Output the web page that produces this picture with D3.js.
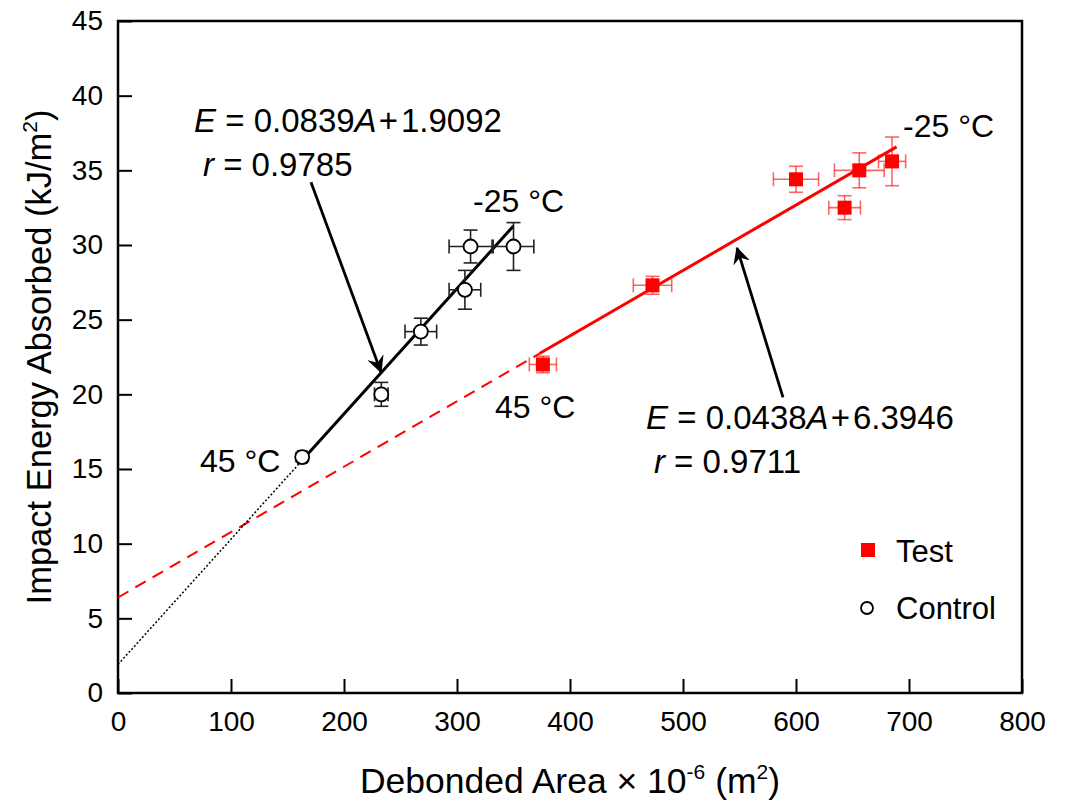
<!DOCTYPE html>
<html>
<head>
<meta charset="utf-8">
<script src="https://d3js.org/d3.v7.min.js"></script>
<style>
    body { margin: 0; background: #fff; }
    text { font-family: "Liberation Sans", Arial, sans-serif; fill: #000; }
</style>
</head>
<body>
<div id="chart"></div>
<script>
// control specimens (open circles)
var controlArea      = [163, 233, 268, 307, 312, 350];
var controlEnergy    = [15.8, 20.0, 24.2, 27.0, 29.9, 29.9];
var controlAreaErr   = [4, 6, 14, 14, 19, 18];
var controlEnergyErr = [0.3, 0.8, 0.9, 1.3, 1.1, 1.6];

// test specimens (red squares)
var testArea      = [376, 473, 600, 643, 656, 685];
var testEnergy    = [22.0, 27.3, 34.4, 32.5, 35.0, 35.6];
var testAreaErr   = [12, 17, 20, 14, 22, 12];
var testEnergyErr = [0.55, 0.6, 0.87, 0.8, 1.17, 1.63];

// regression lines: slope, intercept, range of measured data
var controlFit = [0.0839, 1.9092, 162, 350];
var testFit    = [0.0438, 6.3946, 373, 689];

var xTicks = [0, 100, 200, 300, 400, 500, 600, 700, 800];
var yTicks = [0, 5, 10, 15, 20, 25, 30, 35, 40, 45];

var width = 1065, height = 805;
var margin = {left: 118, right: 43, top: 21, bottom: 112};

var svg = d3.select('#chart')
    .append('svg')
    .attr('width', width)
    .attr('height', height);

var x = d3.scaleLinear().domain([0, 800]).range([margin.left, width - margin.right]);
var y = d3.scaleLinear().domain([0, 45]).range([height - margin.bottom, margin.top]);

// axes (ticks point inward)
var xAxis = svg.append('g')
    .attr('transform', 'translate(0,' + y(0) + ')')
    .call(d3.axisBottom(x).tickValues(xTicks).tickSize(-14).tickPadding(18).tickFormat(d3.format('d')));
var yAxis = svg.append('g')
    .attr('transform', 'translate(' + x(0) + ',0)')
    .call(d3.axisLeft(y).tickValues(yTicks).tickSize(-14).tickPadding(15).tickFormat(d3.format('d')));
[xAxis, yAxis].forEach(function(a) {
    a.attr('font-size', 28).attr('font-family', '"Liberation Sans", Arial, sans-serif');
    a.select('.domain').remove();
    a.selectAll('line').attr('stroke', '#000').attr('stroke-width', 2);
    a.selectAll('text').attr('fill', '#000');
});

svg.append('rect')
    .attr('x', x(0)).attr('y', y(45))
    .attr('width', x(800) - x(0)).attr('height', y(0) - y(45))
    .attr('fill', 'none').attr('stroke', '#000').attr('stroke-width', 2.5);

// axis titles
var xt = svg.append('text')
    .attr('x', (x(0) + x(800)) / 2).attr('y', 793)
    .attr('text-anchor', 'middle').attr('font-size', 35.5);
xt.append('tspan').text('Debonded Area \u00d7 10');
xt.append('tspan').attr('dy', -14).attr('font-size', 21).text('-6');
xt.append('tspan').attr('dy', 14).text(' (m');
xt.append('tspan').attr('dy', -14).attr('font-size', 21).text('2');
xt.append('tspan').attr('dy', 14).text(')');

var yt = svg.append('text')
    .attr('transform', 'translate(51,' + (y(0) + y(45)) / 2 + ') rotate(-90)')
    .attr('text-anchor', 'middle').attr('font-size', 34.5);
yt.append('tspan').text('Impact Energy Absorbed (kJ/m');
yt.append('tspan').attr('dy', -14).attr('font-size', 21).text('2');
yt.append('tspan').attr('dy', 14).text(')');

// fit lines: dashed/dotted extrapolation to A = 0, solid over the data
function fitLine(fit, a0, a1) {
    return d3.line()([[x(a0), y(fit[0] * a0 + fit[1])], [x(a1), y(fit[0] * a1 + fit[1])]]);
}
svg.append('path').attr('d', fitLine(testFit, 0, testFit[2]))
    .attr('stroke', '#ff0000').attr('stroke-width', 2).attr('stroke-dasharray', '12,8').attr('fill', 'none');
svg.append('path').attr('d', fitLine(testFit, testFit[2], testFit[3]))
    .attr('stroke', '#ff0000').attr('stroke-width', 3).attr('fill', 'none');
svg.append('path').attr('d', fitLine(controlFit, 0, controlFit[2]))
    .attr('stroke', '#000').attr('stroke-width', 1.5).attr('stroke-dasharray', '2,2').attr('fill', 'none');
svg.append('path').attr('d', fitLine(controlFit, controlFit[2], controlFit[3]))
    .attr('stroke', '#000').attr('stroke-width', 3).attr('fill', 'none');

// error bars
function errorBars(xs, ys, xe, ye, color) {
    var g = svg.append('g').attr('stroke', color).attr('stroke-width', 1.6);
    var cap = 7;
    xs.forEach(function(d, i) {
        var cx = x(d), cy = y(ys[i]);
        var x0 = x(d - xe[i]), x1 = x(d + xe[i]);
        var y0 = y(ys[i] - ye[i]), y1 = y(ys[i] + ye[i]);
        g.append('line').attr('x1', x0).attr('x2', x1).attr('y1', cy).attr('y2', cy);
        g.append('line').attr('x1', x0).attr('x2', x0).attr('y1', cy - cap).attr('y2', cy + cap);
        g.append('line').attr('x1', x1).attr('x2', x1).attr('y1', cy - cap).attr('y2', cy + cap);
        g.append('line').attr('x1', cx).attr('x2', cx).attr('y1', y0).attr('y2', y1);
        g.append('line').attr('x1', cx - cap).attr('x2', cx + cap).attr('y1', y0).attr('y2', y0);
        g.append('line').attr('x1', cx - cap).attr('x2', cx + cap).attr('y1', y1).attr('y2', y1);
    });
}
errorBars(testArea, testEnergy, testAreaErr, testEnergyErr, 'rgba(255,0,0,0.6)');
errorBars(controlArea, controlEnergy, controlAreaErr, controlEnergyErr, '#222');

// markers
svg.selectAll('rect.test')
    .data(testArea)
    .enter()
    .append('rect')
    .attr('class', 'test')
    .attr('x', (d) => x(d) - 7)
    .attr('y', (d, i) => y(testEnergy[i]) - 7)
    .attr('width', 14).attr('height', 14)
    .attr('fill', '#ff0000');

svg.selectAll('circle.control')
    .data(controlArea)
    .enter()
    .append('circle')
    .attr('class', 'control')
    .attr('cx', (d) => x(d))
    .attr('cy', (d, i) => y(controlEnergy[i]))
    .attr('r', 7)
    .attr('fill', '#fff').attr('stroke', '#000').attr('stroke-width', 1.8);

// arrows pointing at the fit lines
svg.append('defs').append('marker')
    .attr('id', 'head')
    .attr('viewBox', '0 0 12 12')
    .attr('refX', 11).attr('refY', 6)
    .attr('markerWidth', 17).attr('markerHeight', 17)
    .attr('markerUnits', 'userSpaceOnUse')
    .attr('orient', 'auto')
    .append('path')
    .attr('d', 'M0,0 L12,6 L0,12 L4,6 Z')
    .attr('fill', '#000');

var arrows = [
    [170.8, 34.2, 232.7, 21.5],
    [588.5, 19.8, 547.8, 29.8]
];
arrows.forEach(function(a) {
    svg.append('line')
        .attr('x1', x(a[0])).attr('y1', y(a[1]))
        .attr('x2', x(a[2])).attr('y2', y(a[3]))
        .attr('stroke', '#000').attr('stroke-width', 2.8)
        .attr('marker-end', 'url(#head)');
});

// labels
function eqLabel(ax, ey, slope, icpt) {
    var t = svg.append('text').attr('x', x(ax)).attr('y', y(ey)).attr('font-size', 33);
    t.append('tspan').attr('font-style', 'italic').text('E');
    t.append('tspan').text(' = ' + slope);
    t.append('tspan').attr('font-style', 'italic').text('A');
    t.append('tspan').attr('dx', 2).text('+');
    t.append('tspan').attr('dx', 3).text(icpt);
}
function rLabel(ax, ey, r) {
    var t = svg.append('text').attr('x', x(ax)).attr('y', y(ey)).attr('font-size', 33);
    t.append('tspan').attr('font-style', 'italic').text('r');
    t.append('tspan').text(' = ' + r);
}
function tempLabel(ax, ey, s) {
    svg.append('text').attr('x', x(ax)).attr('y', y(ey)).attr('font-size', 32).text(s);
}
eqLabel(67.3, 37.6, '0.0839', '1.9092');
rLabel(75.2, 34.6, '0.9785');
eqLabel(467.3, 17.7, '0.0438', '6.3946');
rLabel(474.3, 14.7, '0.9711');
tempLabel(314.2, 32.2, '-25 \u00b0C');
tempLabel(72.6, 14.8, '45 \u00b0C');
tempLabel(333.6, 18.4, '45 \u00b0C');
tempLabel(694.7, 37.2, '-25 \u00b0C');

// legend
var lg = svg.append('g').attr('transform', 'translate(868,550)');
lg.append('rect').attr('x', -7).attr('y', -7).attr('width', 14).attr('height', 14).attr('fill', '#ff0000');
lg.append('text').attr('x', 28).attr('y', 12).attr('font-size', 31).text('Test');
lg.append('circle').attr('cx', -1).attr('cy', 58).attr('r', 6)
    .attr('fill', '#fff').attr('stroke', '#000').attr('stroke-width', 1.8);
lg.append('text').attr('x', 28).attr('y', 69).attr('font-size', 31).text('Control');
</script>
</body>
</html>
